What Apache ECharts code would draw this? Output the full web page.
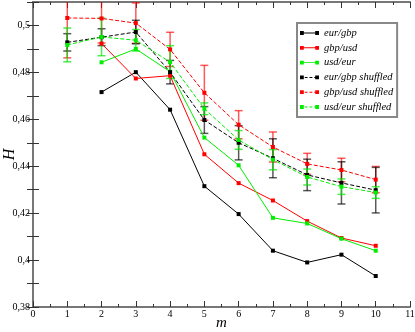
<!DOCTYPE html>
<html>
<head>
<meta charset="utf-8">
<script src="https://cdn.jsdelivr.net/npm/echarts@6/dist/echarts.min.js"></script>
<style>
  html, body { margin: 0; padding: 0; background: #fff; }
  #chart { width: 415px; height: 332px; }
</style>
</head>
<body>
<div id="chart"></div>
<script>
// m values
const mMain = [2, 3, 4, 5, 6, 7, 8, 9, 10];
const mShuf = [1, 2, 3, 4, 5, 6, 7, 8, 9, 10];

// H for the real series (start at m=2)
const eurGbp = [0.4716, 0.4801, 0.4641, 0.4315, 0.4196, 0.4040, 0.3990, 0.4023, 0.3932];
const gbpUsd = [0.4923, 0.4774, 0.4786, 0.4451, 0.4328, 0.4254, 0.4166, 0.4094, 0.4061];
const usdEur = [0.4843, 0.4900, 0.4803, 0.4522, 0.4404, 0.4180, 0.4156, 0.4091, 0.4040];

// H for the shuffled series and their error bars
const eurGbpShuf = [0.4928, 0.4950, 0.4972, 0.4801, 0.4597, 0.4500, 0.4434, 0.4363, 0.4329, 0.4298];
const gbpUsdShuf = [0.5032, 0.5030, 0.5010, 0.4898, 0.4713, 0.4577, 0.4482, 0.4410, 0.4384, 0.4343];
const usdEurShuf = [0.4917, 0.4951, 0.4937, 0.4844, 0.4645, 0.4512, 0.4428, 0.4354, 0.4313, 0.4288];
const eurGbpShufErr = [0.0037, 0.0036, 0.0050, 0.0050, 0.0057, 0.0073, 0.0083, 0.0067, 0.0090, 0.0097];
const gbpUsdShufErr = [0.0170, 0.0105, 0.0086, 0.0073, 0.0117, 0.0060, 0.0064, 0.0045, 0.0050, 0.0056];
const usdEurShufErr = [0.0072, 0.0080, 0.0046, 0.0070, 0.0025, 0.0040, 0.0043, 0.0034, 0.0033, 0.0025];

const RED = '#ff0000', GREEN = '#00ee00', BLACK = '#000000';
const serif = 'Liberation Serif';

const pairs = (xs, ys) => xs.map((x, i) => [x, ys[i]]);
const errs = (xs, ys, es) => xs.map((x, i) => [x, ys[i] - es[i], ys[i] + es[i]]);

// icons for legend: marker - line - marker
const iconSolid = 'path://M0,0h4v4h-4z M4,1.5h12v1h-12z M16,0h4v4h-4z';
const iconDash = 'path://M0,0h4v4h-4z M5,1.5h3v1h-3z M10,1.5h3v1h-3z M15,1.5h1v1h-1z M16,0h4v4h-4z';

function lineSeries(name, data, color, dashed) {
    return {
        name: name,
        type: 'line',
        data: data,
        symbol: 'rect',
        symbolSize: 4,
        showSymbol: true,
        itemStyle: { color: color },
        lineStyle: { color: color, width: 1, type: dashed ? [4, 2] : 'solid' },
        z: 3,
        animation: false
    }
}

function errSeries(data, color) {
    return {
        type: 'custom',
        data: data,
        clip: true,
        z: 2,
        silent: true,
        animation: false,
        renderItem(params, api) {
            const x = api.value(0);
            const lo = api.coord([x, api.value(1)]);
            const hi = api.coord([x, api.value(2)]);
            const w = 4;
            const style = { stroke: color, lineWidth: 1.5 };
            return {
                type: 'group',
                children: [
                    { type: 'line', shape: { x1: lo[0], y1: lo[1], x2: hi[0], y2: hi[1] }, style: style },
                    { type: 'line', shape: { x1: lo[0] - w, y1: lo[1], x2: lo[0] + w, y2: lo[1] }, style: style },
                    { type: 'line', shape: { x1: hi[0] - w, y1: hi[1], x2: hi[0] + w, y2: hi[1] }, style: style }
                ]
            }
        }
    }
}

const yFmt = v => {
    const r = Math.round(v * 100);
    if (r % 2 !== 0) return '';
    return String(+(r / 100).toFixed(2)).replace('.', ',');
};

const axisLine = { show: true, lineStyle: { color: '#777', width: 2 } };
const tick = { show: true, inside: true, length: 6, lineStyle: { color: '#333' } };

var chart = echarts.init(document.getElementById('chart'));
chart.setOption({
    backgroundColor: '#fff',
    animation: false,
    grid: { left: 33, right: 5, top: 2, bottom: 25, containLabel: false, outerBoundsMode: 'none' },
    legend: {
        orient: 'vertical',
        left: 297,
        top: 23,
        padding: [4, 4, 4, 3],
        itemGap: 2.8,
        itemWidth: 19,
        itemHeight: 4,
        borderColor: '#888',
        borderWidth: 2,
        backgroundColor: '#fff',
        textStyle: { fontFamily: serif, fontStyle: 'italic', fontSize: 10.5, color: '#000', lineHeight: 12 },
        data: [
            { name: 'eur/gbp', icon: iconSolid },
            { name: 'gbp/usd', icon: iconSolid },
            { name: 'usd/eur', icon: iconSolid },
            { name: 'eur/gbp shuffled', icon: iconDash },
            { name: 'gbp/usd shuffled', icon: iconDash },
            { name: 'usd/eur shuffled', icon: iconDash }
        ]
    },
    xAxis: [
        {
            type: 'value', min: 0, max: 11, interval: 1,
            name: 'm', nameLocation: 'middle', nameGap: 9, nameMoveOverlap: false,
            nameTextStyle: { fontFamily: serif, fontStyle: 'italic', fontSize: 15, color: '#000' },
            axisLine: axisLine,
            axisTick: tick,
            minorTick: { show: true, splitNumber: 2, length: 3, lineStyle: { color: '#333' } },
            axisLabel: { fontFamily: serif, fontSize: 10, color: '#000', margin: 2 },
            splitLine: { show: false }
        },
        {
            type: 'value', position: 'top', min: 0, max: 11, interval: 1,
            axisLine: axisLine,
            axisTick: tick,
            minorTick: { show: true, splitNumber: 2, length: 3, lineStyle: { color: '#333' } },
            axisLabel: { show: false },
            splitLine: { show: false }
        }
    ],
    yAxis: [
        {
            type: 'value', min: 0.38, max: 0.51, interval: 0.02,
            name: 'H', nameLocation: 'middle', nameGap: 15, nameRotate: 90, nameMoveOverlap: false,
            nameTextStyle: { fontFamily: serif, fontStyle: 'italic', fontSize: 16, color: '#000' },
            axisLine: axisLine,
            axisTick: tick,
            minorTick: { show: true, splitNumber: 2, length: 6, lineStyle: { color: '#333' } },
            axisLabel: { fontFamily: serif, fontSize: 10, color: '#000', margin: 3, formatter: yFmt },
            splitLine: { show: false }
        },
        {
            type: 'value', position: 'right', min: 0.38, max: 0.51, interval: 0.02,
            axisLine: axisLine,
            axisTick: tick,
            minorTick: { show: true, splitNumber: 2, length: 6, lineStyle: { color: '#333' } },
            axisLabel: { show: false },
            splitLine: { show: false }
        }
    ],
    series: [
        errSeries(errs(mShuf, gbpUsdShuf, gbpUsdShufErr), 'rgba(255,0,0,0.65)'),
        errSeries(errs(mShuf, eurGbpShuf, eurGbpShufErr), 'rgba(0,0,0,0.65)'),
        errSeries(errs(mShuf, usdEurShuf, usdEurShufErr), 'rgba(0,230,0,0.7)'),
        lineSeries('eur/gbp', pairs(mMain, eurGbp), BLACK, false),
        lineSeries('gbp/usd', pairs(mMain, gbpUsd), RED, false),
        lineSeries('usd/eur', pairs(mMain, usdEur), GREEN, false),
        lineSeries('eur/gbp shuffled', pairs(mShuf, eurGbpShuf), BLACK, true),
        lineSeries('gbp/usd shuffled', pairs(mShuf, gbpUsdShuf), RED, true),
        lineSeries('usd/eur shuffled', pairs(mShuf, usdEurShuf), GREEN, true)
    ]
});
</script>
</body>
</html>
